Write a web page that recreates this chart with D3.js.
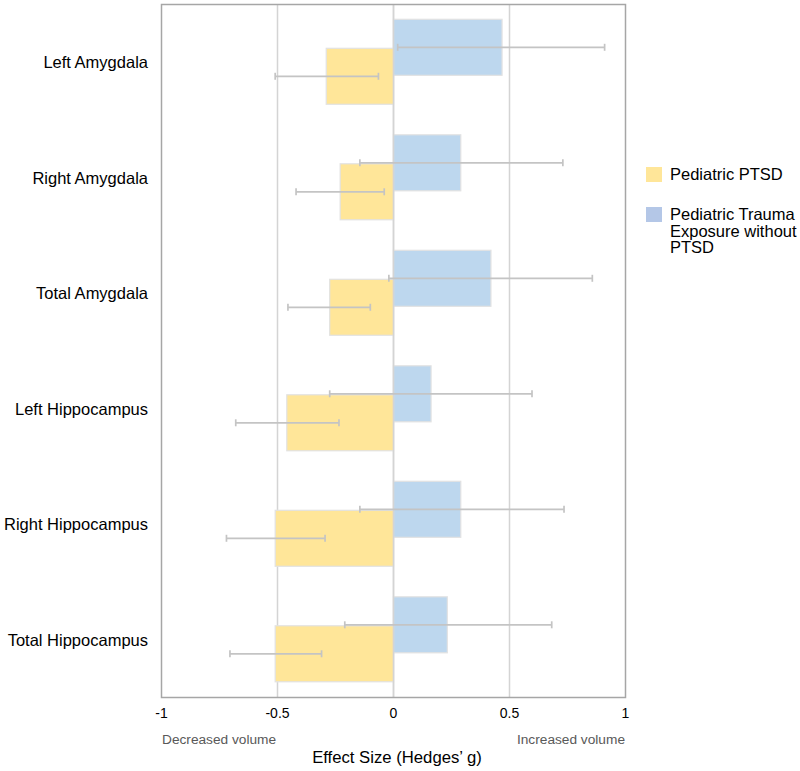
<!DOCTYPE html>
<html>
<head>
<meta charset="utf-8">
<script src="https://cdn.jsdelivr.net/npm/d3@7"></script>
<style>
body { margin: 0; background: #fff; }
svg { display: block; font-family: Arial, "Liberation Sans", sans-serif; }
</style>
</head>
<body>
<svg id="chart" width="800" height="771"></svg>
<script>
const categories = ["Left Amygdala","Right Amygdala","Total Amygdala","Left Hippocampus","Right Hippocampus","Total Hippocampus"];
const ptsd      = [-0.29, -0.23, -0.275, -0.46, -0.51, -0.51];
const ptsdLow   = [-0.51, -0.42, -0.455, -0.68, -0.72, -0.705];
const ptsdHigh  = [-0.065, -0.04, -0.10, -0.235, -0.295, -0.31];
const trauma     = [0.468, 0.29, 0.42, 0.162, 0.29, 0.232];
const traumaLow  = [0.018, -0.145, -0.02, -0.275, -0.145, -0.21];
const traumaHigh = [0.91, 0.73, 0.857, 0.597, 0.735, 0.682];
const xTicks = [-1, -0.5, 0, 0.5, 1];
const xTickLabels = ["-1", "-0.5", "0", "0.5", "1"];
const seriesNames = ["Pediatric PTSD", "Pediatric Trauma Exposure without PTSD"];

const svg = d3.select("#chart");
const L = 161.5, R = 625.5, T = 4.5, B = 697.5;
const x = d3.scaleLinear().domain([-1, 1]).range([L, R]);
const y = d3.scaleBand().domain(categories).range([T, B]).padding(0);
const bw = y.bandwidth();
const barH = bw * 0.485;
const blueOff = bw * 0.128, yellowOff = bw * 0.379;
const yellow = "#FFE699", blue = "#BDD7EE", legendBlue = "#B4C7E7";

// gridlines
svg.append("g").selectAll("line").data(xTicks.filter(d => d > -1 && d < 1)).join("line")
  .attr("x1", d => x(d)).attr("x2", d => x(d)).attr("y1", T).attr("y2", B)
  .attr("stroke", "#d4d4d4").attr("stroke-width", 1.5);

// bars
const rows = categories.map((c, i) => ({c, p: ptsd[i], pl: ptsdLow[i], ph: ptsdHigh[i], t: trauma[i], tl: traumaLow[i], th: traumaHigh[i]}));

svg.append("g").selectAll("rect").data(rows).join("rect")
  .attr("x", d => x(0)).attr("width", d => x(d.t) - x(0))
  .attr("y", d => y(d.c) + blueOff).attr("height", barH)
  .attr("fill", blue).attr("stroke", "#e2e2e2").attr("stroke-width", 1.2);

svg.append("g").selectAll("rect").data(rows).join("rect")
  .attr("x", d => x(d.p)).attr("width", d => x(0) - x(d.p))
  .attr("y", d => y(d.c) + yellowOff).attr("height", barH)
  .attr("fill", yellow).attr("stroke", "#e2e2e2").attr("stroke-width", 1.2);

// zero line over bars
svg.append("line").attr("x1", x(0)).attr("x2", x(0)).attr("y1", T).attr("y2", B)
  .attr("stroke", "#d4d4d4").attr("stroke-width", 1.5);

// error bars
function errBars(getLow, getHigh, off) {
  const g = svg.append("g").attr("stroke", "#c4c4c4").attr("stroke-width", 1.7).attr("fill", "none");
  rows.forEach(d => {
    const cy = y(d.c) + off + barH / 2;
    g.append("line").attr("x1", x(getLow(d))).attr("x2", x(getHigh(d))).attr("y1", cy).attr("y2", cy);
    [getLow(d), getHigh(d)].forEach(v => {
      g.append("line").attr("x1", x(v)).attr("x2", x(v)).attr("y1", cy - 3.5).attr("y2", cy + 3.5);
    });
  });
}
errBars(d => d.tl, d => d.th, blueOff);
errBars(d => d.pl, d => d.ph, yellowOff);

// border
svg.append("rect").attr("x", L).attr("y", T).attr("width", R - L).attr("height", B - T)
  .attr("fill", "none").attr("stroke", "#a6a6a6").attr("stroke-width", 1.5);

// y labels
svg.append("g").selectAll("text").data(categories).join("text")
  .attr("x", 148).attr("y", d => y(d) + bw / 2).attr("dy", "0.35em")
  .attr("text-anchor", "end").attr("font-size", 16.5).attr("fill", "#000").text(d => d);

// x tick labels
svg.append("g").selectAll("text").data(xTicks).join("text")
  .attr("x", d => x(d)).attr("y", 718).attr("text-anchor", "middle")
  .attr("font-size", 14).attr("fill", "#000").text((d, i) => xTickLabels[i]);

svg.append("text").attr("x", 162).attr("y", 744).attr("font-size", 13.7).attr("fill", "#595959").text("Decreased volume");
svg.append("text").attr("x", 625).attr("y", 744).attr("text-anchor", "end").attr("font-size", 13.7).attr("fill", "#595959").text("Increased volume");
svg.append("text").attr("x", 397).attr("y", 763).attr("text-anchor", "middle").attr("font-size", 16.7).attr("fill", "#000").text("Effect Size (Hedges\u2019 g)");

// legend
const lg = svg.append("g");
lg.append("rect").attr("x", 646).attr("y", 167).attr("width", 16).attr("height", 15).attr("fill", yellow);
lg.append("text").attr("x", 670).attr("y", 180).attr("font-size", 16.5).text(seriesNames[0]);
lg.append("rect").attr("x", 646).attr("y", 207).attr("width", 16).attr("height", 15).attr("fill", legendBlue);
const t2 = lg.append("text").attr("x", 670).attr("y", 220).attr("font-size", 16.5);
["Pediatric Trauma", "Exposure without", "PTSD"].forEach((s, i) => {
  t2.append("tspan").attr("x", 670).attr("dy", i === 0 ? 0 : 16.5).text(s);
});
</script>
</body>
</html>
